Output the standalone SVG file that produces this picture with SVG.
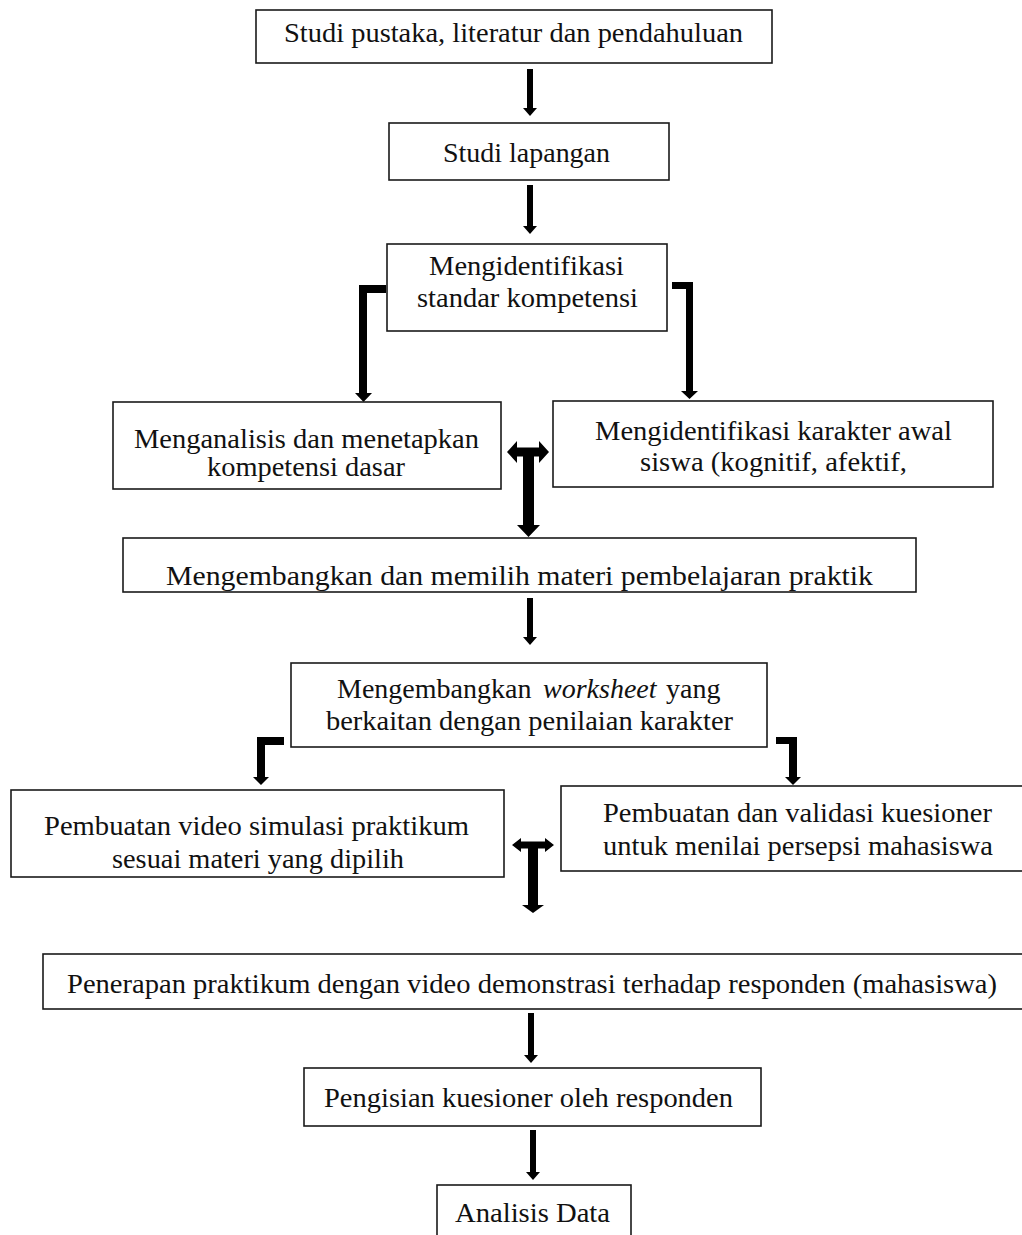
<svg xmlns="http://www.w3.org/2000/svg" width="1022" height="1235" viewBox="0 0 1022 1235">
<style>
.box{fill:#fff;stroke:#1a1a1a;stroke-width:1.6}
.t{font-family:"Liberation Serif","Times New Roman",serif;font-size:28px;fill:#111}
.i{font-style:italic}
.c{fill:#000;stroke:none}
</style>
<rect width="1022" height="1235" fill="#fff"/>
<g id="connectors">
<path class="c" d="M527,69 H533 V108 H537 L530,116 L523,108 H527 Z"/>
<path class="c" d="M527,185 H533 V226 H537 L530,234 L523,226 H527 Z"/>
<path class="c" d="M386,285 H359 V393 H355 L363.5,402 L372,393 H367 V293 H386 Z"/>
<path class="c" d="M672,282 H693 V391 H698 L689.5,399 L681,391 H686 V289 H672 Z"/>
<path class="c" d="M507,452 L517,441 L517,447.5 L539,447.5 L539,441 L549,452 L539,463 L539,456.5 L534,456.5 L534,525 L540,525 L528.5,537 L517,525 L523,525 L523,456.5 L517,456.5 L517,463 Z"/>
<path class="c" d="M527,598 H533 V637 H537 L530,645 L523,637 H527 Z"/>
<path class="c" d="M284,737 H257 V777 H253 L261,785 L269,777 H265 V745 H284 Z"/>
<path class="c" d="M776,737 H797 V777 H801 L793,785 L785,777 H789 V744 H776 Z"/>
<path class="c" d="M512,845 L521,838 L521,841.5 L545,841.5 L545,838 L554,845 L545,852 L545,848.5 L538,848.5 L538,905 L544,905 L533,913 L522,905 L528,905 L528,848.5 L521,848.5 L521,852 Z"/>
<path class="c" d="M528,1013 H534 V1055 H538 L531,1063 L524,1055 H528 Z"/>
<path class="c" d="M530,1130 H536 V1172 H540 L533,1180 L526,1172 H530 Z"/>
</g>
<g id="n1"><rect class="box" x="256" y="10" width="516" height="53"/><text class="t" x="284" y="42" textLength="459" lengthAdjust="spacingAndGlyphs">Studi pustaka, literatur dan pendahuluan</text></g>
<g id="n2"><rect class="box" x="389" y="123" width="280" height="57"/><text class="t" x="443" y="162" textLength="167" lengthAdjust="spacingAndGlyphs">Studi lapangan</text></g>
<g id="n3"><rect class="box" x="387" y="244" width="280" height="87"/><text class="t" x="429" y="275" textLength="195" lengthAdjust="spacingAndGlyphs">Mengidentifikasi</text><text class="t" x="417" y="307" textLength="221" lengthAdjust="spacingAndGlyphs">standar kompetensi</text></g>
<g id="n4"><rect class="box" x="113" y="402" width="388" height="87"/><text class="t" x="134" y="448" textLength="345" lengthAdjust="spacingAndGlyphs">Menganalisis dan menetapkan</text><text class="t" x="207" y="476" textLength="198" lengthAdjust="spacingAndGlyphs">kompetensi dasar</text></g>
<g id="n5"><rect class="box" x="553" y="401" width="440" height="86"/><text class="t" x="595" y="440" textLength="357" lengthAdjust="spacingAndGlyphs">Mengidentifikasi karakter awal</text><text class="t" x="640" y="471" textLength="267" lengthAdjust="spacingAndGlyphs">siswa (kognitif, afektif,</text></g>
<g id="n6"><rect class="box" x="123" y="538" width="793" height="54"/><text class="t" x="166" y="585" textLength="707" lengthAdjust="spacingAndGlyphs">Mengembangkan dan memilih materi pembelajaran praktik</text></g>
<g id="n7"><rect class="box" x="291" y="663" width="476" height="84"/><text class="t" y="698"><tspan x="337">Mengembangkan</tspan><tspan class="i" x="543">worksheet</tspan><tspan x="666">yang</tspan></text><text class="t" x="326" y="730" textLength="407" lengthAdjust="spacingAndGlyphs">berkaitan dengan penilaian karakter</text></g>
<g id="n8"><rect class="box" x="11" y="790" width="493" height="87"/><text class="t" x="44" y="835" textLength="425" lengthAdjust="spacingAndGlyphs">Pembuatan video simulasi praktikum</text><text class="t" x="112" y="868" textLength="292" lengthAdjust="spacingAndGlyphs">sesuai materi yang dipilih</text></g>
<g id="n9"><rect class="box" x="561" y="786" width="470" height="85"/><text class="t" x="603" y="822" textLength="389" lengthAdjust="spacingAndGlyphs">Pembuatan dan validasi kuesioner</text><text class="t" x="603" y="855" textLength="390" lengthAdjust="spacingAndGlyphs">untuk menilai persepsi mahasiswa</text></g>
<g id="n10"><rect class="box" x="43" y="954" width="990" height="55"/><text class="t" x="67" y="993" textLength="930" lengthAdjust="spacingAndGlyphs">Penerapan praktikum dengan video demonstrasi terhadap responden (mahasiswa)</text></g>
<g id="n11"><rect class="box" x="304" y="1068" width="457" height="58"/><text class="t" x="324" y="1107" textLength="409" lengthAdjust="spacingAndGlyphs">Pengisian kuesioner oleh responden</text></g>
<g id="n12"><rect class="box" x="437" y="1185" width="194" height="60"/><text class="t" x="455" y="1222" textLength="155" lengthAdjust="spacingAndGlyphs">Analisis Data</text></g>
</svg>
